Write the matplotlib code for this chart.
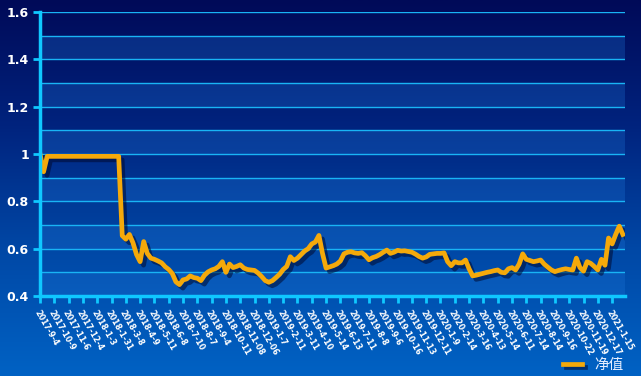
import numpy as np
import matplotlib
matplotlib.use("Agg")
import matplotlib.pyplot as plt
import matplotlib.patheffects as pe
from matplotlib.colors import LinearSegmentedColormap

# ---------------- data ----------------
tick_labels = ["2017-9-4", "2017-10-9", "2017-11-6", "2017-12-4", "2018-1-3", "2018-1-31",
               "2018-3-8", "2018-4-9", "2018-5-11", "2018-6-8", "2018-7-10", "2018-8-7",
               "2018-9-4", "2018-10-11", "2018-11-08", "2018-12-06", "2019-1-7", "2019-2-11",
               "2019-3-11", "2019-4-10", "2019-5-14", "2019-6-13", "2019-7-11", "2019-8-8",
               "2019-9-6", "2019-10-16", "2019-11-13", "2019-12-11", "2020-1-9", "2020-2-14",
               "2020-3-16", "2020-4-13", "2020-5-14", "2020-6-11", "2020-7-14", "2020-8-14",
               "2020-9-16", "2020-10-22", "2020-11-19", "2020-12-17", "2021-1-15"]

# net value sampled weekly (4 samples between consecutive labelled ticks)
nav_values = [1.0, 0.925, 0.99, 0.99, 0.99, 0.99, 0.99, 0.99, 0.99, 0.99,
              0.99, 0.99, 0.99, 0.99, 0.99, 0.99, 0.99, 0.99, 0.99, 0.99,
              0.99, 0.99, 0.99, 0.655, 0.64, 0.66, 0.625, 0.575, 0.545, 0.63,
              0.58, 0.56, 0.555, 0.548, 0.54, 0.524, 0.512, 0.495, 0.46, 0.448,
              0.468, 0.472, 0.485, 0.478, 0.475, 0.465, 0.488, 0.502, 0.51, 0.515,
              0.525, 0.545, 0.50, 0.535, 0.52, 0.525, 0.532, 0.518, 0.512, 0.51,
              0.508, 0.497, 0.482, 0.465, 0.458, 0.465, 0.478, 0.492, 0.512, 0.525,
              0.566, 0.55, 0.56, 0.575, 0.59, 0.60, 0.62, 0.628, 0.656, 0.58,
              0.518, 0.523, 0.528, 0.535, 0.548, 0.578, 0.585, 0.587, 0.582, 0.58,
              0.583, 0.57, 0.553, 0.562, 0.567, 0.575, 0.585, 0.594, 0.58, 0.585,
              0.593, 0.59, 0.591, 0.588, 0.585, 0.577, 0.567, 0.56, 0.565, 0.576,
              0.578, 0.58, 0.58, 0.582, 0.545, 0.528, 0.545, 0.54, 0.54, 0.552,
              0.515, 0.485, 0.488, 0.492, 0.496, 0.50, 0.503, 0.507, 0.51, 0.50,
              0.498, 0.515, 0.52, 0.51, 0.535, 0.578, 0.555, 0.55, 0.545, 0.548,
              0.552, 0.535, 0.522, 0.51, 0.503, 0.508, 0.512, 0.515, 0.512, 0.51,
              0.56, 0.52, 0.505, 0.545, 0.538, 0.525, 0.51, 0.555, 0.53, 0.645,
              0.62, 0.66, 0.695, 0.66]

series_name = "净值"
samples_per_label = 4

# ---------------- figure ----------------
W, H, DPI = 641, 376, 100
fig = plt.figure(figsize=(W / DPI, H / DPI), dpi=DPI)

# background gradient
bg = fig.add_axes([0, 0, 1, 1], zorder=-10)
cmap = LinearSegmentedColormap.from_list("bg", ["#000a58", "#00237e", "#0048a6", "#0062c4"])
grad = np.linspace(0, 1, 256).reshape(-1, 1)
bg.imshow(grad, aspect="auto", cmap=cmap, extent=[0, 1, 0, 1], origin="upper")
bg.set_axis_off()

ax = fig.add_axes([40 / W, 1 - 296 / H, (625 - 40) / W, (296 - 12) / H])
ax.set_facecolor("none")

x = np.arange(len(nav_values))
ax.set_xlim(0, len(nav_values) - 0.4)
ax.set_ylim(0.4, 1.6)

# alternating split areas and grid lines
levels = np.round(np.arange(0.4, 1.6001, 0.1), 2)
for i in range(len(levels) - 1):
    if i % 2 == 0:
        ax.axhspan(levels[i], levels[i + 1], color=(0.12, 0.47, 0.86), alpha=0.28, lw=0, zorder=0)
for lv in levels[1:]:
    ax.axhline(lv, color="#19b4f5", lw=1.0, zorder=1)

# line with shadow
shadow = [pe.SimpleLineShadow(offset=(2.5, -2.5), shadow_color="#000a30", alpha=0.55), pe.Normal()]
ax.plot(x, nav_values, color="#f5a90a", lw=3.4, solid_joinstyle="round", zorder=5,
        label=series_name, path_effects=shadow)

# axes styling
for s in ["top", "right"]:
    ax.spines[s].set_visible(False)
for s in ["left", "bottom"]:
    ax.spines[s].set_color("#0fc8ff")
    ax.spines[s].set_linewidth(2.5)
    ax.spines[s].set_zorder(6)

ax.set_yticks(np.round(np.arange(0.4, 1.61, 0.2), 1))
ax.set_yticklabels(["0.4", "0.6", "0.8", "1", "1.2", "1.4", "1.6"])
ax.tick_params(axis="y", colors="#0fc8ff", length=5, width=2, pad=3, labelcolor="white",
               labelsize=9)
for t in ax.get_yticklabels():
    t.set_fontweight("bold")

tick_pos = np.arange(len(tick_labels)) * samples_per_label
ax.set_xticks(tick_pos)
ax.set_xticklabels(tick_labels, rotation=-60, ha="left", va="top", rotation_mode="anchor",
                   fontsize=5.8, fontweight="bold", color="white")
ax.tick_params(axis="x", colors="#0fc8ff", length=5, width=2, pad=4, labelcolor="white")

# legend
leg = fig.legend(loc="center right", bbox_to_anchor=(624 / W, 1 - 365 / H), frameon=False,
                 borderpad=0, borderaxespad=0,
                 prop={"family": ["Noto Sans CJK SC", "DejaVu Sans"], "size": 10.5},
                 handlelength=1.3, handletextpad=0.9)
for t in leg.get_texts():
    t.set_color("#e6eeff")
for h in leg.get_lines():
    h.set_path_effects(shadow)

fig.savefig("out.png", dpi=DPI)
